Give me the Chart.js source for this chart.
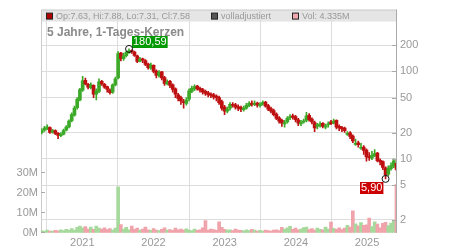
<!DOCTYPE html>
<html>
<head>
<meta charset="utf-8">
<script src="https://cdn.jsdelivr.net/npm/chart.js@4.4.1/dist/chart.umd.min.js"></script>
<style>
  html, body { margin: 0; padding: 0; background: #fff; }
  canvas { display: block; }
</style>
</head>
<body>
<canvas id="priceChart" width="450" height="250"></canvas>
<script>
// two-week candles, June 2020 - June 2025
var candleCount = 131;
var candleYears = [];
for (var i = 0; i < candleCount; i++) candleYears.push(2020.43 + i * 14 / 365.25);

var opens = [
  20, 21.2, 22.3, 22.8, 20.2, 21, 19.6, 18.4, 19.2, 21.3,
  23.2, 27.3, 31.5, 38.5, 47, 61, 79, 71, 65, 69,
  55, 59, 77, 71, 67, 61, 58, 70, 84, 162,
  140, 151, 164, 173, 166, 150, 131, 139, 133, 121,
  109, 117, 101, 89, 99, 85, 72, 77, 70, 63,
  54, 50, 45, 43, 48, 59, 63, 68, 64, 62,
  59, 57, 55, 54, 52, 50, 45, 39, 35, 38,
  42, 41.5, 39.5, 38.5, 36.5, 38, 40.5, 43.5, 42, 43.5,
  40.5, 42.5, 44.5, 40.5, 37.5, 35.5, 32.5, 29.5, 27.5, 25,
  26.5, 29.5, 31, 30.5, 28, 25, 26.5, 27.5, 31.5, 28.5,
  26, 23.5, 24, 25.5, 23, 24.5, 26.5, 25.5, 27.5, 23.5,
  22.8, 22.5, 19.0, 19.8, 18.2, 14.6, 15.2, 13.2, 13.6, 12.6,
  10.6, 10.2, 10.9, 11.6, 9.6, 9.3, 7.9, 6.7, 7.7, 8.3, 8.9
];
var highs = [
  22, 23.5, 24.5, 23.2, 21.8, 21.4, 20, 19.8, 21.9, 24,
  28, 33.5, 40, 50, 64, 88, 84, 73, 74, 70,
  63, 82, 79, 73, 68, 63, 72, 86, 168, 165,
  162, 170, 180.59, 176, 170, 153, 145, 142, 136, 124,
  124, 119, 104, 102, 100, 88, 80, 79, 72, 65,
  56, 52, 48, 50, 63, 68, 70, 69, 66, 64,
  61, 59, 57, 56, 54, 52, 47, 41, 39, 44,
  44, 43, 41.5, 40, 40, 43, 45, 46, 46, 44.5,
  44, 46, 45.5, 42, 39, 37, 33.5, 30.5, 28.5, 27.5,
  30.5, 32, 32.5, 31.5, 29, 27.5, 28.5, 34, 33, 29.5,
  27, 25.5, 26.5, 26, 25, 26.5, 27.5, 28.5, 28, 24.5,
  23.5, 23, 20.5, 20.5, 18.8, 16.8, 16, 15, 14.2, 13,
  11.8, 12.2, 12.8, 11.9, 10, 9.5, 8.1, 8.3, 9, 10, 9.8
];
var lows = [
  19.3, 20.6, 21.6, 19.5, 19.6, 18.9, 17, 17.9, 18.8, 20.8,
  22.6, 26.5, 30.8, 37, 46, 59, 70, 63, 63, 50,
  47, 57, 69, 64, 58, 55, 56, 68, 82, 132,
  133, 146, 160, 160, 148, 126, 128, 126, 116, 106,
  105, 96, 84, 86, 80, 69, 70, 65, 58, 50,
  46, 42, 38, 41, 46, 57, 60, 61, 58, 55,
  53, 51, 50, 48, 46, 42, 36, 32, 33.5, 36,
  39, 37, 35.5, 34.5, 35, 37, 39.5, 40, 40.5, 39,
  39, 41, 39, 35.5, 33.5, 31, 28, 25.5, 23.5, 23,
  25.5, 28, 28.5, 26.5, 24, 24, 25.5, 26.5, 27, 25,
  20.5, 22, 23, 22.5, 22, 23, 24.5, 25, 22, 21,
  20.5, 20, 18.5, 17, 15.3, 14.2, 13.6, 12.8, 11.2, 9.4,
  9.6, 9.8, 10.6, 9.2, 8.5, 7.5, 5.9, 6.4, 7.4, 7.9, 7.31
];
var closes = [
  21, 22.5, 23, 20, 21, 19.5, 18.5, 19, 21, 23,
  27, 32, 38, 48, 62, 78, 72, 66, 70, 55,
  60, 76, 72, 66, 62, 57, 70, 82, 160, 140,
  150, 165, 172, 168, 152, 130, 138, 134, 120, 110,
  118, 100, 90, 98, 84, 73, 76, 69, 62, 55,
  49, 46, 44, 47, 60, 64, 67, 63, 61, 58,
  56, 54, 53, 51, 50, 44, 38, 35, 37, 42,
  41, 39, 38, 37, 38, 41, 43, 42, 43, 41,
  42, 44, 40, 37, 35, 32, 29, 27, 25.5, 26,
  29, 30.5, 30, 28, 25.5, 26, 27, 31, 28, 26.5,
  22.5, 24.5, 25, 23.5, 24, 25, 25.2, 27, 23, 22.5,
  22, 21, 19.5, 18, 16, 15, 14.5, 13.5, 12.5, 10.5,
  10.3, 11, 11.5, 9.5, 9.2, 8, 6.6, 7.8, 8.4, 9.5, 7.58
];
// volume in millions
var volumes = [
  1.2, 0.8, 1.5, 1.0, 0.9, 1.3, 1.1, 1.6, 1.2, 1.8,
  1.5, 2.2, 1.4, 2.8, 3.5, 2.6, 3.2, 2.0, 2.9, 1.8,
  3.4, 2.4, 1.9, 2.6, 1.7, 2.2, 1.5, 2.4, 23, 4.2,
  2.0, 2.8, 1.6, 3.4, 1.8, 2.5, 1.4, 2.0, 3.0, 1.6,
  1.3, 2.2, 1.5, 1.2, 1.8, 2.6, 1.4, 1.7, 1.3, 2.4,
  1.6, 1.9, 1.4, 2.1, 1.5, 1.2, 1.9, 1.3, 1.6, 2.6,
  6.2, 1.4, 1.9, 1.7, 1.3, 5.6, 2.8, 1.8, 1.4, 1.6,
  1.2, 2.0, 1.5, 1.3, 1.1, 1.6, 1.2, 1.8, 1.4, 1.0,
  1.3, 1.0, 1.5, 1.2, 0.9, 1.4, 1.6, 1.2, 2.8, 1.9,
  2.6, 3.3, 1.8, 2.4, 1.6, 2.0, 2.7, 2.9, 1.7, 2.2,
  1.5, 2.4, 1.8, 1.6, 2.9, 1.9, 5.4, 2.3, 1.8, 2.6,
  1.7, 2.5, 3.8, 2.9, 11, 4.5, 3.6, 5.2, 3.8, 4.1,
  7.4, 3.2, 5.6, 4.4, 2.6, 4.8, 5.3, 3.7, 4.9, 5.8, 24
];

var yearTicks = [2021, 2022, 2023, 2024, 2025];
var priceTicks = [2, 5, 10, 20, 50, 100, 200];
var volumeTicks = [0, 10, 20, 30];

var fontFamily = "'Liberation Sans', Arial, sans-serif";
Chart.defaults.font.family = fontFamily;

var bodies = [], wicks = [], vols = [], candleColors = [], volColors = [];
for (var k = 0; k < candleCount; k++) {
  var up = closes[k] >= opens[k];
  bodies.push({ x: candleYears[k], y: [opens[k], closes[k]] });
  wicks.push({ x: candleYears[k], y: [lows[k], highs[k]] });
  vols.push({ x: candleYears[k], y: volumes[k] });
  candleColors.push(up ? "#3caa28" : "#be1010");
  volColors.push(up ? "#a6d99c" : "#f0a3ab");
}

function fmt(v) {
  return v.toFixed(2).replace(".", ",");
}

var overlay = {
  id: "overlay",
  beforeDraw: function (chart) {
    var c = chart.ctx, a = chart.chartArea;
    c.save();
    c.fillStyle = "#e5e5e5";
    c.fillRect(a.left, a.top, a.right - a.left, 12);
    c.restore();
  },
  beforeDatasetsDraw: function (chart) {
    var c = chart.ctx, a = chart.chartArea;
    c.save();
    c.strokeStyle = "#cccccc";
    c.lineWidth = 1;
    c.beginPath();
    c.moveTo(a.left + 0.5, a.bottom);
    c.lineTo(a.left + 0.5, a.top + 0.5);
    c.lineTo(a.right, a.top + 0.5);
    c.stroke();
    c.restore();
  },
  afterDraw: function (chart) {
    var c = chart.ctx, a = chart.chartArea;
    var px = chart.scales.x, py = chart.scales.price, pv = chart.scales.vol;
    c.save();

    // axis lines and small tick marks
    c.strokeStyle = "#aaaaaa";
    c.lineWidth = 1;
    c.beginPath();
    c.moveTo(a.right - 0.5, a.top);
    c.lineTo(a.right - 0.5, a.bottom);
    priceTicks.forEach(function (v) {
      var y = Math.round(py.getPixelForValue(v)) + 0.5;
      c.moveTo(a.right - 5, y);
      c.lineTo(a.right, y);
    });
    volumeTicks.forEach(function (v) {
      var y = Math.round(pv.getPixelForValue(v)) - 0.5;
      c.moveTo(a.left, y);
      c.lineTo(a.left + 4, y);
    });
    c.stroke();

    // header legend
    c.font = "9px " + fontFamily;
    c.textBaseline = "middle";
    var hy = a.top + 6;
    var items = [
      { x: a.left + 5, fill: "#b00000", text: "Op:7.63, Hi:7.88, Lo:7.31, Cl:7.58" },
      { x: a.left + 170, fill: "#555555", text: "volladjustiert" },
      { x: a.left + 251, fill: "#f0a8b0", text: "Vol: 4.335M" }
    ];
    items.forEach(function (it) {
      c.fillStyle = it.fill;
      c.fillRect(it.x + 0.5, hy - 2.5, 6, 6);
      c.strokeStyle = "#222";
      c.strokeRect(it.x + 0.5, hy - 2.5, 6, 6);
      c.fillStyle = "#999999";
      c.fillText(it.text, it.x + 10, hy + 1);
    });

    // title
    c.font = "bold 12px " + fontFamily;
    c.fillStyle = "#8a8a8a";
    c.fillText("5 Jahre, 1-Tages-Kerzen", a.left + 6, a.top + 23);

    // max / min markers
    var iMax = 0, iMin = 0;
    for (var n = 1; n < candleCount; n++) {
      if (highs[n] > highs[iMax]) iMax = n;
      if (lows[n] < lows[iMin]) iMin = n;
    }
    c.font = "11px " + fontFamily;
    var xMax = px.getPixelForValue(candleYears[iMax]), yMax = py.getPixelForValue(highs[iMax]);
    var xMin = px.getPixelForValue(candleYears[iMin]), yMin = py.getPixelForValue(lows[iMin]);

    var tMax = fmt(highs[iMax]), wMax = c.measureText(tMax).width + 2;
    c.fillStyle = "#009900";
    c.fillRect(Math.round(xMax + 3), Math.round(yMax - 13), wMax, 12);
    c.fillStyle = "#ffffff";
    c.fillText(tMax, Math.round(xMax + 4), Math.round(yMax - 7));

    var tMin = fmt(lows[iMin]), wMin = c.measureText(tMin).width + 2;
    c.fillStyle = "#cc0000";
    c.fillRect(Math.round(xMin - 2 - wMin), Math.round(yMin + 3), wMin, 12);
    c.fillStyle = "#ffffff";
    c.fillText(tMin, Math.round(xMin - 1 - wMin), Math.round(yMin + 9));

    c.strokeStyle = "#111111";
    c.lineWidth = 1;
    [[xMax, yMax], [xMin, yMin]].forEach(function (p) {
      c.beginPath();
      c.arc(p[0], p[1], 3.5, 0, Math.PI * 2);
      c.stroke();
    });
    c.restore();
  }
};

var ctx = document.getElementById("priceChart").getContext("2d");

var priceChart = new Chart(ctx, {
  type: "bar",
  data: {
    datasets: [
      {
        label: "Kerzen",
        data: bodies,
        backgroundColor: candleColors,
        barThickness: 3,
        minBarLength: 1,
        grouped: false,
        yAxisID: "price",
        order: 1
      },
      {
        label: "Dochte",
        data: wicks,
        backgroundColor: candleColors,
        barThickness: 1,
        grouped: false,
        yAxisID: "price",
        order: 2
      },
      {
        label: "Volumen",
        data: vols,
        backgroundColor: volColors,
        barThickness: 3,
        grouped: false,
        yAxisID: "vol",
        order: 3
      }
    ]
  },
  options: {
    responsive: false,
    animation: false,
    devicePixelRatio: 1,
    layout: { padding: { top: 7, left: 0, right: 0, bottom: 0 } },
    plugins: {
      legend: { display: false },
      tooltip: { enabled: false }
    },
    scales: {
      x: {
        type: "linear",
        min: 2020.42,
        max: 2025.42,
        offset: false,
        afterBuildTicks: function (s) {
          s.ticks = yearTicks.map(function (v) { return { value: v }; });
        },
        afterFit: function (s) { s.height = 17; },
        ticks: {
          color: "#999999",
          font: { size: 11 },
          padding: 3,
          maxRotation: 0,
          autoSkip: false,
          callback: function (v) { return String(v); }
        },
        grid: { color: "#dddddd", drawTicks: false },
        border: { display: false }
      },
      price: {
        type: "logarithmic",
        position: "right",
        min: 1.42,
        max: 508,
        afterBuildTicks: function (s) {
          s.ticks = priceTicks.map(function (v) { return { value: v }; });
        },
        afterFit: function (s) { s.width = 53; },
        ticks: {
          color: "#999999",
          font: { size: 11 },
          padding: 3,
          callback: function (v) { return String(v); }
        },
        grid: { color: "#dddddd", drawTicks: false },
        border: { display: false }
      },
      vol: {
        type: "linear",
        position: "left",
        min: 0,
        max: 111,
        afterBuildTicks: function (s) {
          s.ticks = volumeTicks.map(function (v) { return { value: v }; });
        },
        afterFit: function (s) { s.width = 41; },
        ticks: {
          color: "#999999",
          font: { size: 11 },
          padding: 3,
          callback: function (v) { return v + "M"; }
        },
        grid: { drawOnChartArea: false, drawTicks: false },
        border: { display: false }
      }
    }
  },
  plugins: [overlay]
});
</script>
</body>
</html>
